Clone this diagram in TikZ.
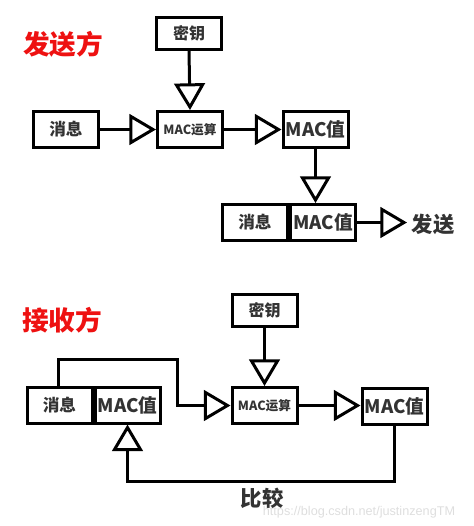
\documentclass[tikz,border=0pt]{standalone}
\usepackage{fontspec}
\setmainfont{Noto Sans CJK SC}
\newfontfamily\wmfont{Liberation Sans}
\usetikzlibrary{arrows.meta}
\definecolor{txt}{HTML}{333333}
\definecolor{ttl}{HTML}{EE1111}
\tikzset{
  box/.style={draw=black, line width=2.25pt, inner sep=0pt, text=txt,
    minimum width=48.75pt, minimum height=27pt, font=\bfseries\fontsize{14}{14}\selectfont},
  keybox/.style={box, minimum height=24pt, font=\bfseries\fontsize{12}{12}\selectfont},
  msgbox/.style={box, font=\bfseries\fontsize{12.5}{12.5}\selectfont},
  opbox/.style={box, font=\bfseries\fontsize{9.5}{10}\selectfont},
  titletext/.style={text=ttl, font=\bfseries\fontsize{20}{20}\selectfont},
  plaintext/.style={text=txt, font=\bfseries\fontsize{16}{16}\selectfont},
  conn/.style={line width=2.25pt, -{Triangle[open, length=20pt, width=23pt, line width=2.25pt]}},
  wire/.style={line width=2.25pt}
}
\begin{document}
\begin{tikzpicture}[x=0.75pt, y=-0.75pt]
\useasboundingbox (0,0) rectangle (474,526);
% ---------- sender ----------
\node[titletext] (t1) at (63,44) {发送方};
\node[keybox] (k1) at (189,33) {密钥};
\node[msgbox] (m1) at (66,129.5) {消息};
\node[opbox] (op1) at (190,129.5) {MAC运算};
\node[box] (v1) at (315.5,129.5) {MAC值};
\node[msgbox] (msg2) at (255,222.5) {消息};
\node[box, anchor=west] (mac2) at (msg2.east) {MAC值};
\node[plaintext, anchor=west] (send) at (407,224) {发送};
\draw[conn] (k1.south) -- (op1.north);
\draw[conn] (m1.east) -- (op1.west);
\draw[conn] (op1.east) -- (v1.west);
\draw[conn] (v1.south) -- (v1.south |- mac2.north);
\draw[conn] (mac2.east) -- (mac2.east -| send.west);
% ---------- receiver ----------
\node[titletext] (t2) at (62,320) {接收方};
\node[keybox] (k2) at (264.5,310.5) {密钥};
\node[opbox] (op2) at (264.5,405.5) {MAC运算};
\node[msgbox] (msg3) at (59.5,405) {消息};
\node[box, anchor=west] (mac3) at (msg3.east) {MAC值};
\node[box] (v2) at (394.5,406.5) {MAC值};
\node[plaintext] (cmp) at (262,498) {比较};
\coordinate (c1) at (58,359);
\coordinate (c2) at (177,359);
\coordinate (c3) at (177,405.5);
\coordinate (c4) at (394.5,481);
\coordinate (c5) at (mac3.south |- c4);
\draw[conn] (k2.south) -- (op2.north);
\draw[conn] (msg3.north -| c1) -- (c1) -- (c2) -- (c3) -- (op2.west);
\draw[conn] (op2.east) -- (op2.east -| v2.west);
\draw[conn] (v2.south) -- (c4) -- (c5) -- (mac3.south);
% watermark
\node[text=black!13, font=\wmfont\fontsize{9.5}{10}\selectfont] (wm) at (359,512) {https://blog.csdn.net/justinzengTM};
\end{tikzpicture}
\end{document}
